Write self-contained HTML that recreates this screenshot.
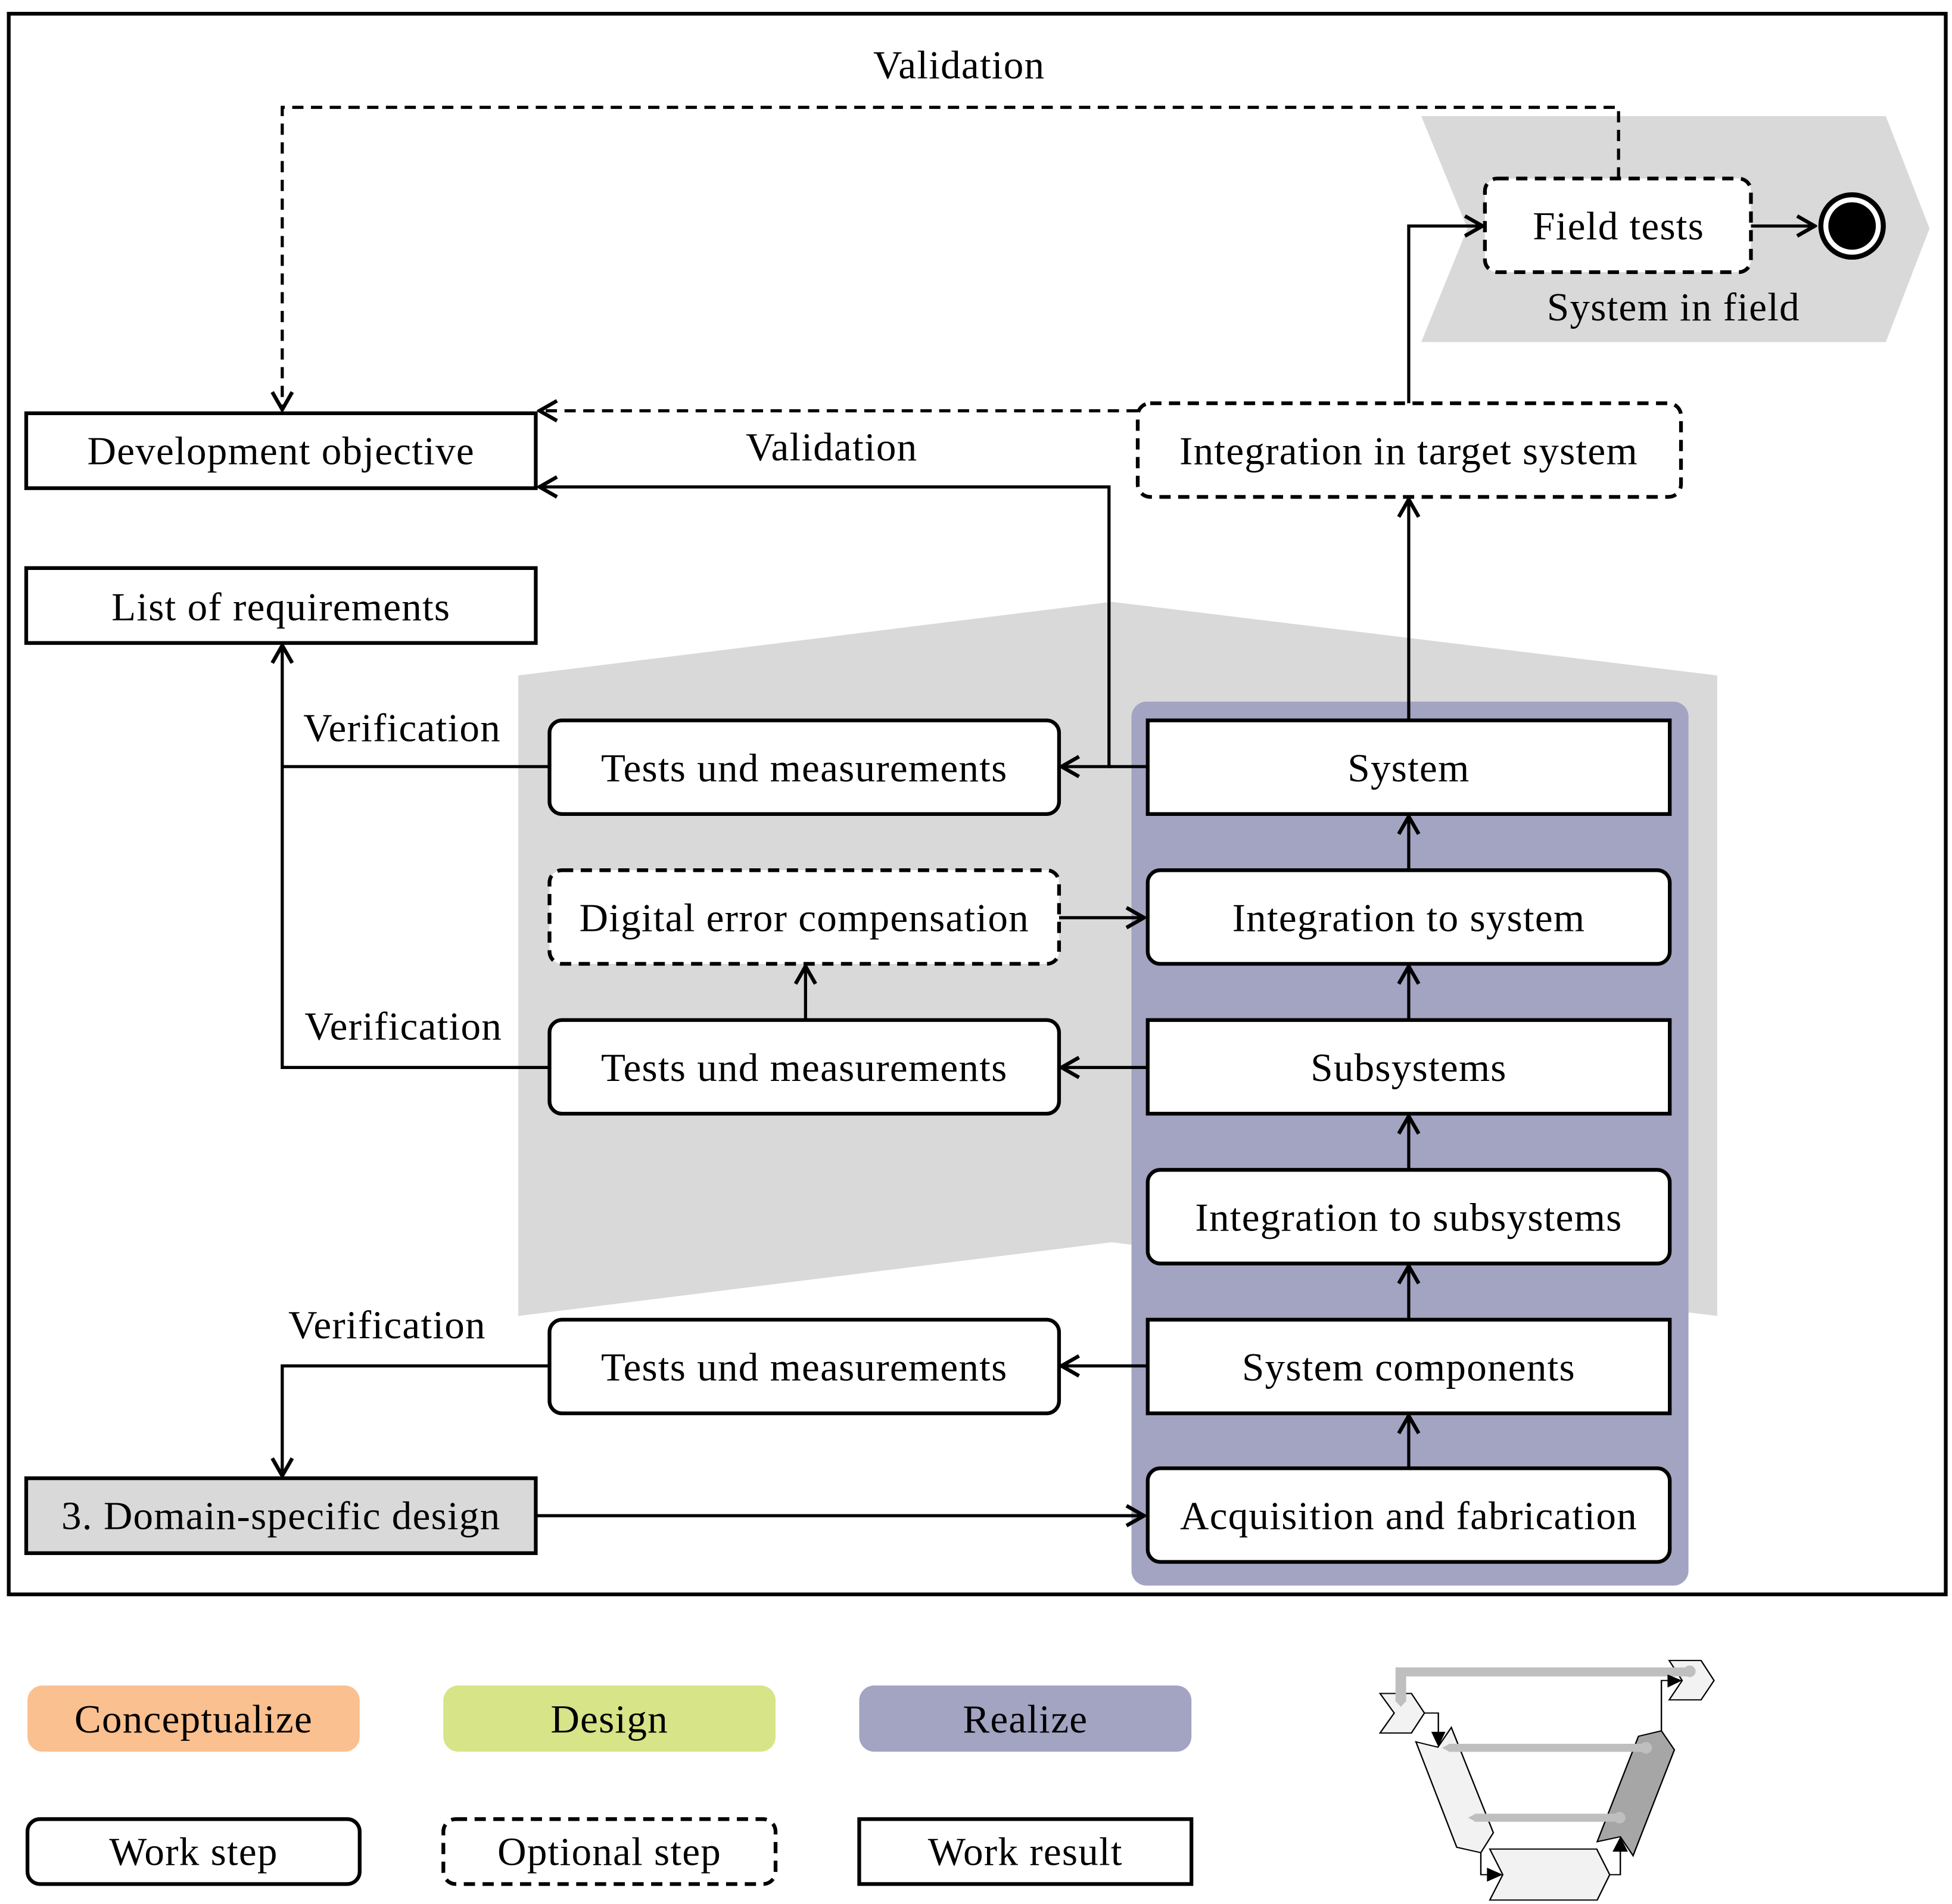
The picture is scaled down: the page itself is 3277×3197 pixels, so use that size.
<!DOCTYPE html>
<html><head><meta charset="utf-8"><style>
html,body{margin:0;padding:0;background:#fff}
svg{display:block}
text{font-family:"Liberation Serif",serif;font-size:32px;letter-spacing:0.6px;fill:#000;text-anchor:middle;dominant-baseline:central}
</style></head><body>
<svg width="3277" height="3197" viewBox="0 0 1563 1525" preserveAspectRatio="none" xmlns="http://www.w3.org/2000/svg">
<defs>
<marker id="a" viewBox="0 0 20 20" refX="18" refY="10" markerWidth="20" markerHeight="20" markerUnits="userSpaceOnUse" orient="auto">
<path d="M4,2 L18,10 L4,18" fill="none" stroke="#000" stroke-width="3"/>
</marker>
</defs>
<rect x="0" y="0" width="1563" height="1525" fill="#fff"/>
<rect x="7" y="11" width="1551" height="1266" fill="none" stroke="#000" stroke-width="3"/>
<polygon points="1138,93 1510,93 1545,183 1510,274 1138,274 1175,183" fill="#d9d9d9"/>
<polygon points="415,541 890,482 1375,541 1375,1054 890,995 415,1054" fill="#d9d9d9"/>
<rect x="906" y="562" width="446" height="708" rx="12" fill="#a3a3c2"/>

<polyline points="1296,143 1296,86 226,86 226,328" fill="none" stroke="#000" stroke-width="2.5" stroke-dasharray="9,6" marker-end="url(#a)"/>
<text x="768" y="52">Validation</text>
<polyline points="1128,323 1128,181 1187,181" fill="none" stroke="#000" stroke-width="2.5" marker-end="url(#a)"/>
<line x1="1402" y1="181" x2="1453" y2="181" stroke="#000" stroke-width="2.5" marker-end="url(#a)"/>
<line x1="911" y1="329" x2="432" y2="329" stroke="#000" stroke-width="2.5" stroke-dasharray="9,6" marker-end="url(#a)"/>
<text x="666" y="358">Validation</text>
<polyline points="918,614 888,614 888,390 432,390" fill="none" stroke="#000" stroke-width="2.5" marker-end="url(#a)"/>
<line x1="890" y1="614" x2="850" y2="614" stroke="#000" stroke-width="2.5" marker-end="url(#a)"/>
<line x1="1128" y1="577" x2="1128" y2="400" stroke="#000" stroke-width="2.5" marker-end="url(#a)"/>
<line x1="1128" y1="697" x2="1128" y2="654" stroke="#000" stroke-width="2.5" marker-end="url(#a)"/>
<line x1="1128" y1="817" x2="1128" y2="774" stroke="#000" stroke-width="2.5" marker-end="url(#a)"/>
<line x1="1128" y1="937" x2="1128" y2="894" stroke="#000" stroke-width="2.5" marker-end="url(#a)"/>
<line x1="1128" y1="1057" x2="1128" y2="1014" stroke="#000" stroke-width="2.5" marker-end="url(#a)"/>
<line x1="1128" y1="1176" x2="1128" y2="1134" stroke="#000" stroke-width="2.5" marker-end="url(#a)"/>
<line x1="848" y1="735" x2="916" y2="735" stroke="#000" stroke-width="2.5" marker-end="url(#a)"/>
<line x1="645" y1="817" x2="645" y2="774" stroke="#000" stroke-width="2.5" marker-end="url(#a)"/>
<line x1="918" y1="855" x2="850" y2="855" stroke="#000" stroke-width="2.5" marker-end="url(#a)"/>
<line x1="918" y1="1094" x2="850" y2="1094" stroke="#000" stroke-width="2.5" marker-end="url(#a)"/>
<polyline points="440,855 226,855 226,517" fill="none" stroke="#000" stroke-width="2.5" marker-end="url(#a)"/>
<line x1="440" y1="614" x2="226" y2="614" stroke="#000" stroke-width="2.5"/>
<polyline points="440,1094 226,1094 226,1182" fill="none" stroke="#000" stroke-width="2.5" marker-end="url(#a)"/>
<line x1="429" y1="1214" x2="916" y2="1214" stroke="#000" stroke-width="2.5" marker-end="url(#a)"/>
<text x="322" y="583">Verification</text>
<text x="323" y="822">Verification</text>
<text x="310" y="1061">Verification</text>

<circle cx="1483" cy="181" r="27" fill="#000"/>
<circle cx="1483" cy="181" r="23" fill="#fff"/>
<circle cx="1483" cy="181" r="19" fill="#000"/>

<rect x="1189" y="143" width="213" height="75" rx="10" fill="#fff" stroke="#000" stroke-width="3" stroke-dasharray="9,6"/>
<text x="1296" y="181">Field tests</text>
<text x="1340" y="246">System in field</text>
<rect x="911" y="323" width="435" height="75" rx="10" fill="#fff" stroke="#000" stroke-width="3" stroke-dasharray="9,6"/>
<text x="1128" y="361">Integration in target system</text>
<rect x="21" y="331" width="408" height="60" fill="#fff" stroke="#000" stroke-width="3"/>
<text x="225" y="361">Development objective</text>
<rect x="21" y="455" width="408" height="60" fill="#fff" stroke="#000" stroke-width="3"/>
<text x="225" y="486">List of requirements</text>
<rect x="21" y="1184" width="408" height="60" fill="#d9d9d9" stroke="#000" stroke-width="3"/>
<text x="225" y="1214">3. Domain-specific design</text>

<rect x="919" y="577" width="418" height="75" fill="#fff" stroke="#000" stroke-width="3"/>
<text x="1128" y="615">System</text>
<rect x="919" y="697" width="418" height="75" rx="10" fill="#fff" stroke="#000" stroke-width="3"/>
<text x="1128" y="735">Integration to system</text>
<rect x="919" y="817" width="418" height="75" fill="#fff" stroke="#000" stroke-width="3"/>
<text x="1128" y="855">Subsystems</text>
<rect x="919" y="937" width="418" height="75" rx="10" fill="#fff" stroke="#000" stroke-width="3"/>
<text x="1128" y="975">Integration to subsystems</text>
<rect x="919" y="1057" width="418" height="75" fill="#fff" stroke="#000" stroke-width="3"/>
<text x="1128" y="1095">System components</text>
<rect x="919" y="1176" width="418" height="75" rx="10" fill="#fff" stroke="#000" stroke-width="3"/>
<text x="1128" y="1214">Acquisition and fabrication</text>

<rect x="440" y="577" width="408" height="75" rx="10" fill="#fff" stroke="#000" stroke-width="3"/>
<text x="644" y="615">Tests und measurements</text>
<rect x="440" y="697" width="408" height="75" rx="10" fill="#fff" stroke="#000" stroke-width="3" stroke-dasharray="9,6"/>
<text x="644" y="735">Digital error compensation</text>
<rect x="440" y="817" width="408" height="75" rx="10" fill="#fff" stroke="#000" stroke-width="3"/>
<text x="644" y="855">Tests und measurements</text>
<rect x="440" y="1057" width="408" height="75" rx="10" fill="#fff" stroke="#000" stroke-width="3"/>
<text x="644" y="1095">Tests und measurements</text>

<rect x="22" y="1350" width="266" height="53" rx="12" fill="#fac090"/>
<text x="155" y="1377">Conceptualize</text>
<rect x="355" y="1350" width="266" height="53" rx="12" fill="#d7e487"/>
<text x="488" y="1377">Design</text>
<rect x="688" y="1350" width="266" height="53" rx="12" fill="#a3a3c2"/>
<text x="821" y="1377">Realize</text>
<rect x="22" y="1457" width="266" height="52" rx="10" fill="#fff" stroke="#000" stroke-width="3"/>
<text x="155" y="1483">Work step</text>
<rect x="355" y="1457" width="266" height="52" rx="10" fill="#fff" stroke="#000" stroke-width="3" stroke-dasharray="9,6"/>
<text x="488" y="1483">Optional step</text>
<rect x="688" y="1457" width="266" height="52" fill="#fff" stroke="#000" stroke-width="3"/>
<text x="821" y="1483">Work result</text>

<g transform="translate(1100.3,1321.5) scale(0.189,0.16)" stroke-linejoin="miter">
<polygon points="25,218 158,218 213,316 158,416 25,416 85,316" fill="#f2f2f2" stroke="#000" stroke-width="6"/>
<polygon points="1250,53 1385,53 1440,153 1385,250 1250,250 1305,153" fill="#f2f2f2" stroke="#000" stroke-width="6"/>
<polygon points="177,460 270,487 327,388 505,915 452,1015 350,988" fill="#f2f2f2" stroke="#000" stroke-width="6"/>
<polygon points="490,997 943,997 998,1125 945,1252 490,1252 545,1125" fill="#f2f2f2" stroke="#000" stroke-width="6"/>
<polygon points="1120,432 1217,405 1272,500 1097,1030 1043,935 945,960" fill="#a6a6a6" stroke="#000" stroke-width="6"/>
<polyline points="113,260 113,110 1337,110" fill="none" stroke="#bfbfbf" stroke-width="45"/>
<polygon points="90,255 136,255 113,285" fill="#bfbfbf"/>
<ellipse cx="1337" cy="107" rx="25" ry="29" fill="#bfbfbf"/>
<line x1="1152" y1="490" x2="315" y2="490" stroke="#bfbfbf" stroke-width="40"/>
<polygon points="320,470 320,510 288,490" fill="#bfbfbf"/>
<ellipse cx="1152" cy="490" rx="25" ry="29" fill="#bfbfbf"/>
<line x1="1040" y1="840" x2="425" y2="840" stroke="#bfbfbf" stroke-width="40"/>
<polygon points="430,820 430,860 398,840" fill="#bfbfbf"/>
<ellipse cx="1040" cy="840" rx="25" ry="29" fill="#bfbfbf"/>
<polyline points="213,316 272,316 272,420" fill="none" stroke="#000" stroke-width="6"/>
<polygon points="242,410 302,410 272,485" fill="#000"/>
<polyline points="452,1015 452,1125 485,1125" fill="none" stroke="#000" stroke-width="6"/>
<polygon points="478,1090 478,1160 545,1125" fill="#000"/>
<polyline points="998,1125 1043,1125 1043,1000" fill="none" stroke="#000" stroke-width="6"/>
<polygon points="1010,1010 1075,1010 1043,935" fill="#000"/>
<polyline points="1217,405 1217,153 1245,153" fill="none" stroke="#000" stroke-width="6"/>
<polygon points="1243,123 1243,188 1305,153" fill="#000"/>
</g>
</svg>
</body></html>
